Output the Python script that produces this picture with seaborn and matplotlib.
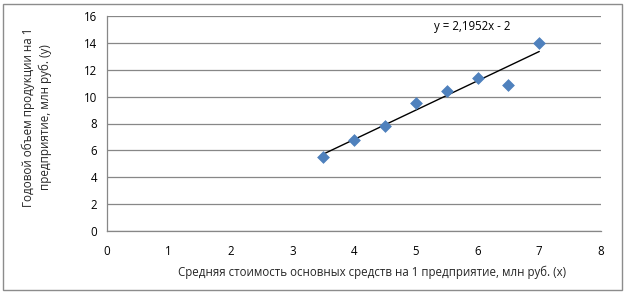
import numpy as np
import pandas as pd
import matplotlib
matplotlib.use("Agg")
import matplotlib.pyplot as plt
from matplotlib.patches import Rectangle
import seaborn as sns

# Data
x_vals = [3.5, 4.0, 4.5, 5.0, 5.5, 6.0, 6.5, 7.0]
y_vals = [5.5, 6.8, 7.8, 9.5, 10.4, 11.4, 10.9, 14.0]
x_ticks = [0, 1, 2, 3, 4, 5, 6, 7, 8]
y_ticks = [0, 2, 4, 6, 8, 10, 12, 14, 16]
eq_label = "y = 2,1952x - 2"
x_label = "Средняя стоимость основных средств на 1 предприятие, млн руб. (x)"
y_label = "Годовой объем продукции на 1\nпредприятие, млн руб. (у)"

sns.set_style("white")
plt.rcParams['font.family'] = ['Open Sans', 'DejaVu Sans']

df = pd.DataFrame({"x": x_vals, "y": y_vals})
slope, intercept = np.polyfit(df["x"], df["y"], 1)
trend = pd.DataFrame({"x": [min(x_vals), max(x_vals)]})
trend["y"] = slope * trend["x"] + intercept

W, H = 628, 294
fs = 8.3
fig = plt.figure(figsize=(W / 100, H / 100), dpi=100)
ax = fig.add_axes([107 / W, 1 - 231 / H, (601 - 107) / W, (231 - 16) / H])

grid_c = "#878787"
ax.set_xlim(0, 8)
ax.set_ylim(0, 16)
ax.set_xticks(x_ticks)
ax.set_yticks(y_ticks)
ax.yaxis.grid(True, color=grid_c, linewidth=0.9)
ax.xaxis.grid(False)
ax.set_axisbelow(True)

sns.lineplot(data=trend, x="x", y="y", ax=ax, color="black", linewidth=1.0, zorder=2)
sns.scatterplot(data=df, x="x", y="y", ax=ax, marker="D", s=36, color="#4F81BD",
                edgecolor="#4F81BD", linewidth=0.5, zorder=3)

for s in ["top", "right"]:
    ax.spines[s].set_visible(False)
for s in ["left", "bottom"]:
    ax.spines[s].set_color(grid_c)
    ax.spines[s].set_linewidth(0.9)

ax.tick_params(axis="both", which="both", direction="out", length=4, width=0.9,
               color=grid_c, labelsize=fs, labelcolor="black")
ax.tick_params(axis="x", pad=6)
ax.tick_params(axis="y", pad=3)
ax.set_xlabel("")
ax.set_ylabel("")

ax.text(5.91, 15.2, eq_label, ha="center", va="center", fontsize=fs, color="black")

fig.text(372 / W, 1 - 272 / H, x_label, ha="center", va="center", fontsize=fs)
fig.text(37 / W, 1 - 117 / H, y_label, ha="center", va="center", rotation=90,
         fontsize=8.4, multialignment="center", linespacing=1.4)

fig.patches.append(Rectangle((3 / W, 4 / H), (622 - 3) / W, (290 - 4) / H,
                             transform=fig.transFigure, fill=False,
                             edgecolor="#8c8c8c", linewidth=1.0))

fig.savefig("out.png", dpi=100)
